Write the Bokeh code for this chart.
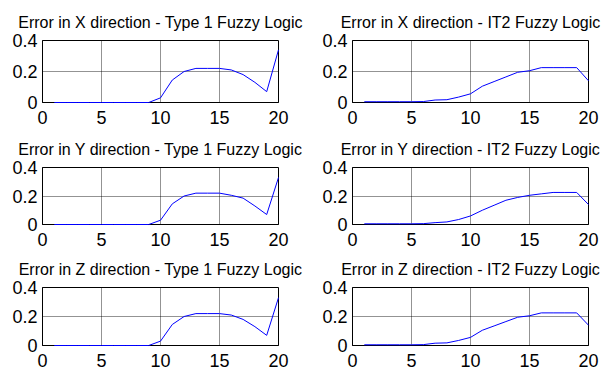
from bokeh.plotting import figure
from bokeh.layouts import gridplot
from bokeh.models import Range1d, FixedTicker
from bokeh.embed import file_html
from bokeh.resources import INLINE

steps = list(range(1, 21))

x_type1 = [0, 0, 0, 0, 0, 0, 0, 0, 0, 0.03, 0.145, 0.20, 0.22, 0.22, 0.22, 0.21, 0.18, 0.13, 0.07, 0.34]
x_it2 = [0.005, 0.005, 0.005, 0.005, 0.005, 0.006, 0.016, 0.018, 0.035, 0.056, 0.105, 0.135, 0.165, 0.195, 0.205, 0.225, 0.225, 0.225, 0.225, 0.14]
y_type1 = [0, 0, 0, 0, 0, 0, 0, 0, 0, 0.03, 0.145, 0.20, 0.22, 0.22, 0.22, 0.205, 0.185, 0.13, 0.07, 0.33]
y_it2 = [0.005, 0.005, 0.005, 0.005, 0.005, 0.006, 0.013, 0.018, 0.035, 0.06, 0.10, 0.135, 0.17, 0.19, 0.205, 0.215, 0.225, 0.225, 0.225, 0.14]
z_type1 = [0, 0, 0, 0, 0, 0, 0, 0, 0, 0.03, 0.145, 0.20, 0.22, 0.22, 0.22, 0.21, 0.18, 0.13, 0.07, 0.33]
z_it2 = [0.005, 0.005, 0.005, 0.005, 0.005, 0.006, 0.016, 0.018, 0.035, 0.056, 0.105, 0.135, 0.165, 0.195, 0.205, 0.225, 0.225, 0.225, 0.225, 0.14]

titles = [
    ["Error in X direction - Type 1 Fuzzy Logic", "Error in X direction - IT2 Fuzzy Logic"],
    ["Error in Y direction - Type 1 Fuzzy Logic", "Error in Y direction - IT2 Fuzzy Logic"],
    ["Error in Z direction - Type 1 Fuzzy Logic", "Error in Z direction - IT2 Fuzzy Logic"],
]
series = [[x_type1, x_it2], [y_type1, y_it2], [z_type1, z_it2]]

x_ticks = [0, 5, 10, 15, 20]
y_ticks = [0, 0.2, 0.4]
y_tick_labels = {0: "0", 0.2: "0.2", 0.4: "0.4"}

FONT = "Liberation Sans"
row_heights = [128, 120, 126]
row_tops = [40, 34, 35]
col_widths = [306, 307]
col_left = [42, 46]
col_right = [28, 25]

figs = []
for r in range(3):
    row_figs = []
    for c in range(2):
        h = row_heights[r]
        p = figure(width=col_widths[c], height=h, output_backend="svg", toolbar_location=None,
                   x_range=Range1d(0, 20), y_range=Range1d(0, 0.4),
                   min_border_left=col_left[c], min_border_right=col_right[c],
                   min_border_top=row_tops[r], min_border_bottom=h - row_tops[r] - 62)
        p.title.text = titles[r][c]
        p.title.text_font = FONT
        p.title.text_font_size = "16px"
        p.title.text_font_style = "normal"
        p.title.text_color = "black"
        p.title.align = "center"
        p.title.standoff = 20
        r_line = p.line(steps, series[r][c], line_color="#0000ff", line_width=1)
        r_line.level = "overlay"
        p.xaxis.ticker = FixedTicker(ticks=x_ticks)
        p.yaxis.ticker = FixedTicker(ticks=y_ticks)
        p.yaxis.major_label_overrides = y_tick_labels
        for ax in (p.xaxis, p.yaxis):
            ax.major_label_text_font = FONT
            ax.major_label_text_font_size = "18px"
            ax.major_label_text_color = "black"
            ax.major_tick_in = 0
            ax.major_tick_out = 0
            ax.minor_tick_in = 0
            ax.minor_tick_out = 0
            ax.axis_line_color = "black"
            ax.major_tick_line_color = "black"
        p.xaxis.major_label_standoff = 8
        p.yaxis.major_label_standoff = 5
        p.xgrid.grid_line_color = "black"
        p.ygrid.grid_line_color = "black"
        p.xgrid.grid_line_dash = "1 1"
        p.ygrid.grid_line_dash = "1 1"
        p.xgrid.grid_line_alpha = 0.85
        p.ygrid.grid_line_alpha = 0.85
        p.outline_line_color = "black"
        p.outline_line_alpha = 1
        p.background_fill_color = "white"
        p.border_fill_color = "white"
        row_figs.append(p)
    figs.append(row_figs)

grid = gridplot(figs, toolbar_location=None)
open("out.html", "w").write(file_html(grid, INLINE))
